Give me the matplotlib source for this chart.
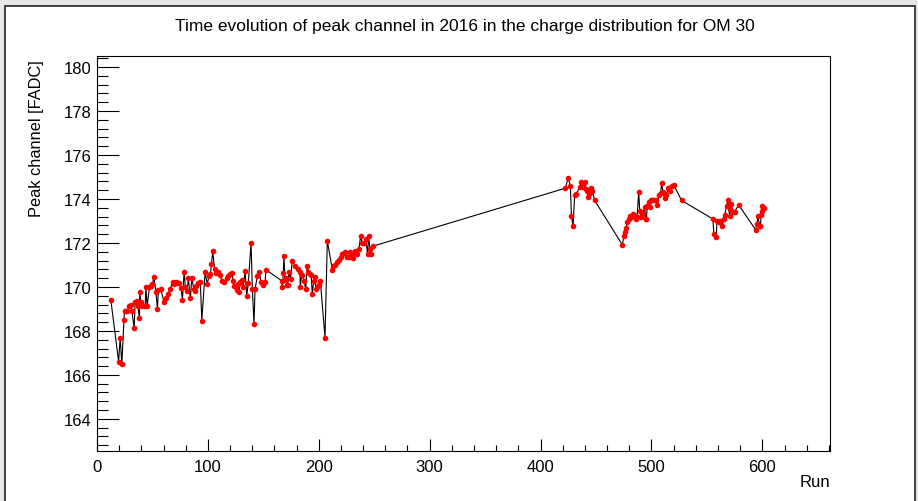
import matplotlib.pyplot as plt
import matplotlib as mpl
from matplotlib.ticker import MultipleLocator
from matplotlib.patches import Rectangle

# run number and fitted peak channel of the charge distribution, OM 30, 2016
runs = [12.5, 19.5, 20.9, 22.4, 24.3, 24.8, 26.0, 27.5, 29.3, 30.5,
        31.5, 33.5, 34.4, 36.2, 36.8, 38.3, 38.6, 39.5, 41.0, 43.4,
        44.1, 45.2, 47.3, 48.8, 50.0, 51.3, 53.1, 54.5, 55.4, 57.6,
        60.3, 62.1, 64.4, 65.9, 68.4, 69.5, 71.1, 72.9, 74.3, 75.9,
        77.0, 78.6, 79.7, 81.3, 82.4, 84.2, 85.5, 87.3, 88.5, 89.6,
        91.4, 93.2, 94.5, 97.5, 99.3, 101.0, 102.3, 103.2, 104.4, 106.0,
        107.1, 108.9, 111.0, 112.5, 114.9, 117.0, 118.5, 120.0, 121.5, 123.0,
        123.9, 125.4, 126.6, 127.5, 128.1, 129.0, 130.5, 132.0, 133.5, 135.0,
        136.5, 138.9, 140.1, 141.6, 142.5, 144.6, 146.4, 147.9, 149.5, 151.5,
        152.4, 166.6, 167.1, 168.0, 168.6, 169.5, 170.3, 171.4, 172.0, 173.2,
        174.5, 176.1, 178.6, 181.0, 183.1, 183.3, 184.5, 186.7, 188.2, 189.6,
        190.5, 192.0, 193.2, 194.1, 195.5, 196.4, 197.5, 199.0, 200.2, 201.4,
        205.6, 207.7, 212.2, 213.1, 214.6, 216.7, 218.5, 219.7, 221.2, 222.7,
        223.9, 225.1, 226.9, 228.1, 229.6, 231.1, 232.6, 234.1, 236.2, 237.7,
        239.2, 240.7, 242.3, 244.0, 244.9, 246.1, 246.8, 248.6,
        422.4, 424.8, 426.9, 427.8, 429.3, 430.8, 432.3, 435.3, 436.8, 438.3,
        440.4, 440.7, 441.9, 442.8, 444.3, 445.8, 446.7, 448.8,
        473.8, 475.0, 475.9, 477.4, 477.9, 479.5, 480.4, 481.9, 483.3, 484.2,
        485.8, 487.0, 488.5, 489.4, 490.9, 492.3, 493.9, 494.8, 495.4, 496.3,
        497.5, 498.4, 499.9, 501.4, 502.9, 504.4, 505.3, 506.8, 508.3, 509.2,
        510.4, 511.9, 513.4, 514.9, 516.4, 518.2, 520.0, 527.2,
        555.4, 556.3, 558.5, 559.0, 560.8, 562.1, 563.9, 565.3, 565.9, 568.0,
        568.9, 570.5, 571.1, 572.0, 573.4, 575.0, 578.6,
        593.9, 595.1, 596.0, 597.5, 598.2, 599.0, 599.6, 600.0, 601.2]

peak = [169.40, 166.60, 167.70, 166.48, 168.49, 168.89, 168.90, 168.92, 169.12, 169.18,
        168.90, 168.11, 169.33, 169.36, 169.12, 168.60, 169.78, 169.33, 169.13, 169.12,
        169.98, 169.12, 169.98, 170.05, 170.12, 170.46, 169.78, 168.99, 169.87, 169.90,
        169.33, 169.48, 169.68, 169.90, 170.24, 170.15, 170.24, 170.16, 170.20, 169.94,
        169.42, 170.69, 169.98, 169.83, 170.39, 169.48, 170.39, 169.90, 169.83, 170.05,
        170.18, 170.21, 168.46, 170.69, 170.13, 170.50, 170.59, 171.04, 171.62, 170.80,
        170.65, 170.67, 170.55, 170.28, 170.24, 170.39, 170.50, 170.59, 170.63, 170.28,
        170.05, 169.98, 169.87, 170.13, 169.75, 170.24, 170.30, 170.00, 170.74, 169.60,
        170.20, 172.00, 169.90, 168.31, 169.90, 170.48, 170.69, 170.21, 170.10, 170.21,
        170.78, 170.28, 169.98, 170.63, 171.42, 170.30, 170.40, 170.09, 170.10, 170.69,
        170.35, 171.19, 170.97, 170.82, 170.67, 169.98, 170.55, 170.28, 169.90, 170.97,
        170.70, 170.60, 170.55, 169.68, 170.28, 170.45, 169.90, 170.05, 170.10, 170.28,
        167.70, 172.10, 170.78, 170.94, 171.00, 171.12, 171.24, 171.35, 171.50, 171.55,
        171.60, 171.35, 171.35, 171.58, 171.45, 171.30, 171.65, 171.50, 171.73, 172.30,
        172.00, 172.00, 172.20, 171.50, 172.30, 171.73, 171.50, 171.85,
        174.49, 174.95, 174.61, 173.22, 172.79, 174.20, 174.23, 174.54, 174.79, 174.54,
        174.79, 174.45, 174.38, 174.10, 174.25, 174.49, 174.38, 173.93,
        171.91, 172.30, 172.51, 172.70, 172.97, 173.10, 173.24, 173.17, 173.32, 173.25,
        173.09, 173.17, 174.31, 173.47, 173.17, 173.32, 173.62, 173.09, 173.09, 173.70,
        173.85, 173.62, 173.93, 173.93, 173.93, 173.93, 173.73, 174.18, 174.27, 174.73,
        174.30, 174.03, 174.18, 174.49, 174.38, 174.61, 174.64, 173.93,
        173.09, 172.41, 172.26, 173.01, 172.95, 173.01, 172.79, 173.09, 173.27, 173.70,
        173.93, 173.22, 173.55, 173.75, 173.42, 173.42, 173.73,
        172.60, 172.86, 173.22, 172.79, 172.79, 173.27, 173.47, 173.70, 173.58]

title = "Time evolution of peak channel in 2016 in the charge distribution for OM 30"

mpl.rc('font', family=['Liberation Sans', 'DejaVu Sans'])

W, H = 918, 502
fig = plt.figure(figsize=(W / 100, H / 100), dpi=100, facecolor='#e6e6e6')

# white canvas with a dark frame, as in the ROOT canvas window (bottom edge off-page)
fig.patches.append(Rectangle((4.5 / W, -0.02), (915 - 4.5) / W, 1.02 - 7 / H,
                             transform=fig.transFigure, facecolor='white',
                             edgecolor='#222222', linewidth=1.2, zorder=-10))

ax = fig.add_axes([97 / W, 1 - 452 / H, (830 - 97) / W, (452 - 57) / H])

ax.plot(runs, peak, color='black', linewidth=0.8,
        marker='o', markersize=3.0, markerfacecolor='red', markeredgecolor='red')

ax.set_xlim(0, 661)
ax.set_ylim(162.54, 180.5)

# ROOT-like axes: ticks only on bottom/left, pointing inwards
ax.xaxis.set_major_locator(MultipleLocator(100))
ax.xaxis.set_minor_locator(MultipleLocator(20))
ax.yaxis.set_major_locator(MultipleLocator(2))
ax.yaxis.set_minor_locator(MultipleLocator(0.4))
ax.tick_params(axis='x', which='major', direction='in', length=9, width=0.8,
               labelsize=12, pad=6, top=False)
ax.tick_params(axis='x', which='minor', direction='in', length=4.5, width=0.8, top=False)
ax.tick_params(axis='y', which='major', direction='in', length=15.5, width=0.8,
               labelsize=12, pad=4, right=False)
ax.tick_params(axis='y', which='minor', direction='in', length=7.8, width=0.8, right=False)
for s in ax.spines.values():
    s.set_linewidth(0.8)

fig.text(465 / W, 1 - 26 / H, title, ha='center', va='center', fontsize=12.5)
fig.text(37 / W, 1 - 60 / H, "Peak channel [FADC]", rotation=90,
         ha='center', va='top', fontsize=11.8)
fig.text(830 / W, 1 - 483 / H, "Run", ha='right', va='center', fontsize=12)

fig.savefig("out.png", dpi=100, facecolor=fig.get_facecolor())
